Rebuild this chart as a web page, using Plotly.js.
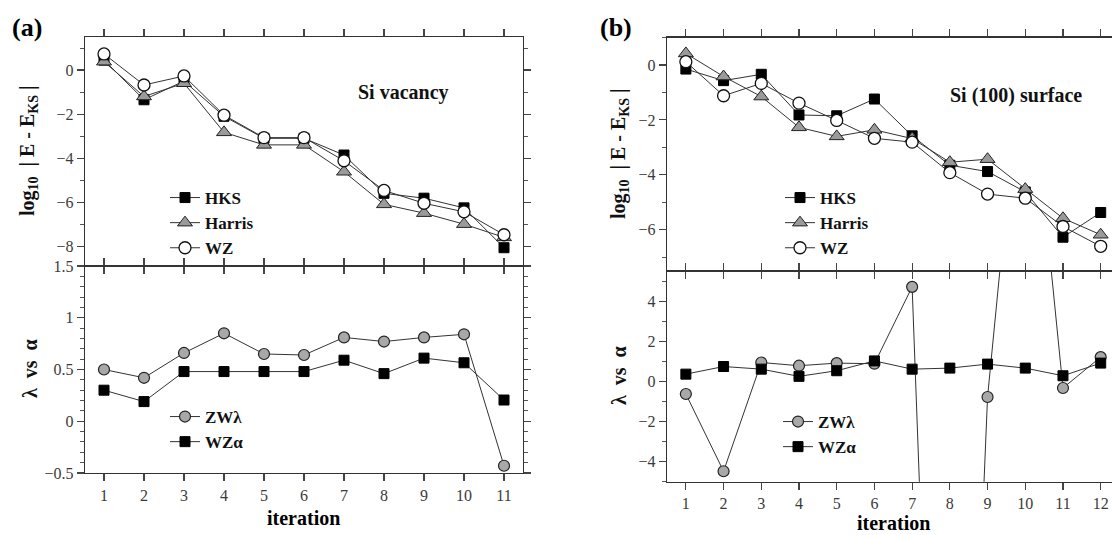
<!DOCTYPE html>
<html>
<head>
<meta charset="utf-8">
<script src="https://cdn.plot.ly/plotly-3.0.1.min.js"></script>
<style>
  html, body { margin: 0; padding: 0; background: #fff; overflow: hidden; }
  #chart { width: 1112px; height: 535px; }
</style>
</head>
<body>
<div id="chart"></div>
<script>
// ---------- data ----------
const iterA = [1, 2, 3, 4, 5, 6, 7, 8, 9, 10, 11];
const iterB = [1, 2, 3, 4, 5, 6, 7, 8, 9, 10, 11, 12];

// (a) Si vacancy : log10 |E - E_KS|
const hksA    = [0.45, -1.35, -0.50, -2.10, -3.10, -3.10, -3.86, -5.60, -5.82, -6.26, -8.07];
const harrisA = [0.38, -1.20, -0.60, -2.83, -3.40, -3.40, -4.62, -6.10, -6.50, -7.00, -7.60];
const wzA     = [0.73, -0.68, -0.27, -2.05, -3.07, -3.07, -4.12, -5.47, -6.05, -6.44, -7.48];
// (a) lambda vs alpha
const zwLambdaA = [0.50, 0.42, 0.66, 0.85, 0.65, 0.64, 0.81, 0.77, 0.81, 0.84, -0.43];
const wzAlphaA  = [0.30, 0.19, 0.48, 0.48, 0.48, 0.48, 0.59, 0.46, 0.61, 0.565, 0.205];

// (b) Si (100) surface : log10 |E - E_KS|
const hksB    = [-0.15, -0.57, -0.34, -1.82, -1.85, -1.24, -2.58, -3.65, -3.88, -4.62, -6.27, -5.37];
const harrisB = [0.42, -0.42, -1.15, -2.27, -2.60, -2.36, -2.68, -3.54, -3.43, -4.52, -5.58, -6.18];
const wzB     = [0.12, -1.12, -0.67, -1.39, -2.02, -2.67, -2.81, -3.92, -4.70, -4.85, -5.88, -6.60];
// (b) lambda vs alpha
const zwLambdaB = [-0.63, -4.48, 0.94, 0.78, 0.91, 0.88, 4.71, -46, -0.78, 18.5, -0.33, 1.21];
const wzAlphaB  = [0.36, 0.74, 0.61, 0.25, 0.53, 1.02, 0.61, 0.66, 0.86, 0.66, 0.28, 0.91];

const namesTop = ['HKS', 'Harris', 'WZ'];
const namesBot = ['ZWλ', 'WZα'];

// ---------- helpers ----------
const W = 1112, H = 535;
const px = x => x / W;
const py = y => 1 - y / H;
const SERIF = 'Liberation Serif';
const lineStyle = {color: '#333', width: 1};

const mk = {
  hks:    {symbol: 'square', size: 10, color: '#000', line: {color: '#000', width: 1}},
  harris: {symbol: 'triangle-up', size: 13, color: '#9a9a9a', line: {color: '#222', width: 1}},
  wz:     {symbol: 'circle', size: 12, color: '#fff', line: {color: '#111', width: 1.3}},
  zw:     {symbol: 'circle', size: 11, color: '#a8a8a8', line: {color: '#222', width: 1.2}},
  wza:    {symbol: 'square', size: 10, color: '#000', line: {color: '#000', width: 1}}
};

function tr(x, y, name, marker, xa, ya, leg) {
  return {x: x, y: y, name: name, type: 'scatter', mode: 'lines+markers',
          line: lineStyle, marker: marker, xaxis: xa, yaxis: ya, legend: leg,
          hoverinfo: 'skip'};
}

const traces = [
  tr(iterA, hksA,    namesTop[0], mk.hks,    'x',  'y',  'legend'),
  tr(iterA, harrisA, namesTop[1], mk.harris, 'x',  'y',  'legend'),
  tr(iterA, wzA,     namesTop[2], mk.wz,     'x',  'y',  'legend'),
  tr(iterA, zwLambdaA, namesBot[0], mk.zw,   'x2', 'y2', 'legend2'),
  tr(iterA, wzAlphaA,  namesBot[1], mk.wza,  'x2', 'y2', 'legend2'),
  tr(iterB, hksB,    namesTop[0], mk.hks,    'x3', 'y3', 'legend3'),
  tr(iterB, harrisB, namesTop[1], mk.harris, 'x3', 'y3', 'legend3'),
  tr(iterB, wzB,     namesTop[2], mk.wz,     'x3', 'y3', 'legend3'),
  tr(iterB, zwLambdaB, namesBot[0], mk.zw,   'x4', 'y4', 'legend4'),
  tr(iterB, wzAlphaB,  namesBot[1], mk.wza,  'x4', 'y4', 'legend4')
];

const tickFont = {family: SERIF, size: 16, color: '#3a3a3a'};
const base = {
  showline: true, linecolor: '#333', linewidth: 1.3,
  ticks: 'outside', ticklen: 7, tickwidth: 1.1, tickcolor: '#444',
  mirror: 'ticks', zeroline: false, showgrid: false,
  tickfont: tickFont, fixedrange: true
};
const xBase = Object.assign({}, base, {tickmode: 'linear', tick0: 0, dtick: 1});
const yMinor = d => ({dtick: d, ticks: 'outside', ticklen: 4, tickwidth: 1, tickcolor: '#555'});

const domAx = [px(85), px(523)];
const domBx = [px(667), 1];
const domAtop = [py(266), py(37)];
const domAbot = [py(473), py(266)];
const domBtop = [py(271), py(37.5)];
const domBbot = [py(481.7), py(271)];

const legFont = {family: SERIF, size: 17, weight: 'bold', color: '#111'};
const legBase = {bgcolor: 'rgba(0,0,0,0)', borderwidth: 0, font: legFont,
                 xanchor: 'left', yanchor: 'top', itemwidth: 30, tracegroupgap: 0,
                 itemclick: false, itemdoubleclick: false};

const titleFont = {family: SERIF, size: 20, weight: 'bold', color: '#111'};
const iterFont = {family: SERIF, size: 20, weight: 'bold', color: '#000'};
function ann(text, x, y, font, angle) {
  return {text: text, x: px(x), y: py(y), xref: 'paper', yref: 'paper',
          showarrow: false, font: font, textangle: angle || 0,
          xanchor: 'center', yanchor: 'middle'};
}

const layout = {
  width: W, height: H,
  margin: {l: 0, r: 0, t: 0, b: 0},
  paper_bgcolor: '#fff', plot_bgcolor: '#fff',
  showlegend: true,
  xaxis:  Object.assign({}, xBase, {domain: domAx, range: [0.525, 11.475], anchor: 'y', showticklabels: false}),
  yaxis:  Object.assign({}, base, {domain: domAtop, range: [-8.9, 1.5], anchor: 'x', dtick: 2, tick0: 0, minor: yMinor(1)}),
  xaxis2: Object.assign({}, xBase, {domain: domAx, range: [0.525, 11.475], anchor: 'y2'}),
  yaxis2: Object.assign({}, base, {domain: domAbot, range: [-0.5, 1.5], anchor: 'x2', dtick: 0.5, tick0: 0, minor: yMinor(0.1)}),
  xaxis3: Object.assign({}, xBase, {domain: domBx, range: [0.5, 12.3], anchor: 'y3', showticklabels: false}),
  yaxis3: Object.assign({}, base, {domain: domBtop, range: [-7.5, 1.0], anchor: 'x3', dtick: 2, tick0: 0, mirror: false, minor: yMinor(1)}),
  xaxis4: Object.assign({}, xBase, {domain: domBx, range: [0.5, 12.3], anchor: 'y4'}),
  yaxis4: Object.assign({}, base, {domain: domBbot, range: [-5, 5.5], anchor: 'x4', dtick: 2, tick0: 0, mirror: false, minor: yMinor(1)}),
  legend:  Object.assign({}, legBase, {x: px(165), y: py(180)}),
  legend2: Object.assign({}, legBase, {x: px(165), y: py(399)}),
  legend3: Object.assign({}, legBase, {x: px(780), y: py(180)}),
  legend4: Object.assign({}, legBase, {x: px(778), y: py(404)}),
  annotations: [
    ann('(a)', 27, 27, {family: SERIF, size: 26, weight: 'bold', color: '#000'}),
    ann('(b)', 616, 27, {family: SERIF, size: 26, weight: 'bold', color: '#000'}),
    ann('Si vacancy', 403, 93, titleFont),
    ann('Si (100) surface', 1016, 95, titleFont),
    ann('log<sub>10</sub>  | E - E<sub>KS</sub> |', 28, 151, titleFont, -90),
    ann('λ  vs  α', 30, 369, titleFont, -90),
    ann('log<sub>10</sub>  | E - E<sub>KS</sub> |', 619, 154, titleFont, -90),
    ann('λ  vs  α', 619, 376, titleFont, -90),
    ann('iteration', 303, 518, iterFont),
    ann('iteration', 893, 523, iterFont)
  ]
};

Plotly.newPlot('chart', traces, layout, {displayModeBar: false, staticPlot: true});
</script>
</body>
</html>
